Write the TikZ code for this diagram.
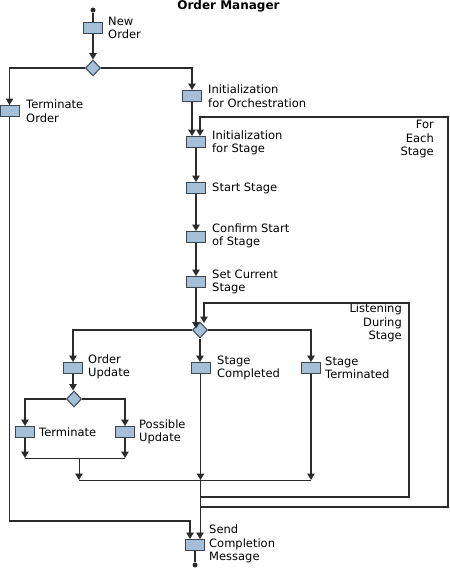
\documentclass[tikz,border=0pt]{standalone}
\usepackage{fontspec}
\setmainfont{DejaVu Sans}
\usetikzlibrary{shapes.geometric,arrows.meta,calc}
\definecolor{boxfill}{HTML}{A5BFD9}
\definecolor{boxline}{HTML}{3C4650}
\definecolor{ln}{HTML}{2B2B2B}
\begin{document}
\begin{tikzpicture}[x=1pt,y=-1pt,
  font=\fontsize{11.5}{13.5}\selectfont,
  act/.style={draw=boxline,fill=boxfill,line width=1pt,minimum width=19pt,minimum height=11pt,inner sep=0pt},
  dec/.style={diamond,draw=boxline,fill=boxfill,line width=1pt,minimum width=15pt,minimum height=16pt,inner sep=0pt},
  dotnode/.style={circle,fill=ln,inner sep=0pt,minimum size=5pt},
  lbl/.style={anchor=west,align=left,inner sep=0pt,text=black},
  rlbl/.style={anchor=north east,align=right,inner sep=0pt,text=black},
  flow/.style={draw=ln,line width=1.4pt},
  thin/.style={draw=ln,line width=0.9pt},
  arr/.style={-{Triangle[width=7.5pt,length=6.5pt]}},
]
\useasboundingbox (0,0) rectangle (450,568);
\fill[white] (0,0) rectangle (450,568);

\node[font=\fontsize{12}{14}\selectfont\bfseries,inner sep=0pt] (title) at (228.5,6) {Order Manager};

% nodes
\node[dotnode] (s) at (93,10) {};
\node[act] (n1) at (93,28) {};
\node[lbl] (n1l) at (108,28) {New\\Order};
\node[dec] (d1) at (93,68) {};
\node[act] (tor) at (9.5,111) {};
\node[lbl] (torl) at (26,111) {Terminate\\Order};
\node[act] (io) at (192,96) {};
\node[lbl] (iol) at (208,96) {Initialization\\for Orchestration};
\node[act] (is) at (196,142) {};
\node[lbl] (isl) at (212,143) {Initialization\\for Stage};
\node[act] (ss) at (196,188) {};
\node[lbl] (ssl) at (212,188) {Start Stage};
\node[act] (cs) at (196,237) {};
\node[lbl] (csl) at (212,236) {Confirm Start\\of Stage};
\node[act] (sc) at (196,282) {};
\node[lbl] (scl) at (212,282) {Set Current\\Stage};
\node[dec] (d2) at (200,330) {};
\node[act] (ou) at (73,368) {};
\node[lbl] (oul) at (88,367) {Order\\Update};
\node[act] (scp) at (200.5,368) {};
\node[lbl] (scpl) at (217,368) {Stage\\Completed};
\node[act] (st) at (311,368) {};
\node[lbl] (stl) at (325,368) {Stage\\Terminated};
\node[dec] (d3) at (74,399) {};
\node[act] (tm) at (25,432) {};
\node[lbl] (tml) at (39,432) {Terminate};
\node[act] (pu) at (125,432) {};
\node[lbl] (pul) at (139,432) {Possible\\Update};
\node[act] (scm) at (195,545) {};
\node[lbl] (scml) at (209,544) {Send\\Completion\\Message};
\node[dotnode] (e) at (195,565) {};
\node[rlbl] (fel) at (434,120) {For\\Each\\Stage};
\node[rlbl] (lsl) at (402,304) {Listening\\During\\Stage};

% coordinates
\coordinate (m1) at (25,458);
\coordinate (m1b) at (125,458);
\coordinate (m1c) at (79,458);
\coordinate (m2) at (79,480);
\coordinate (m2b) at (311,480);
\coordinate (m2c) at (200,480);
\coordinate (lsB) at (200,497);
\coordinate (lsBR) at (409,497);
\coordinate (lsTR) at (409,303);
\coordinate (lsTL) at (204,303);
\coordinate (feB) at (200,507);
\coordinate (feBR) at (448,507);
\coordinate (feTR) at (448,117);
\coordinate (feTL) at (200,117);
\coordinate (tB) at (9.5,521);
\coordinate (tBR) at (190,521);

% connectors
\draw[flow] (s) -- (n1.north);
\draw[flow,arr] (n1.south) -- (d1.north);
\draw[flow,arr] (d1.west) -| (tor.north);
\draw[flow,arr] (d1.east) -| (io.north);
\draw[flow,arr] (io.south) -- (io.south |- is.north);
\draw[flow,arr] (feB) -- (feBR) -- (feTR) -- (feTL) -- (feTL |- is.north);
\draw[flow,arr] (is.south) -- (ss.north);
\draw[flow,arr] (ss.south) -- (cs.north);
\draw[flow,arr] (cs.south) -- (sc.north);
\draw[flow,arr] (sc.south) -- ++(0,40.5);
\draw[flow,arr] (lsB) -- (lsBR) -- (lsTR) -- (lsTL) -- ++(0,20);
\draw[flow,arr] (d2.west) -| (ou.north);
\draw[flow,arr] (d2.south) -- (d2.south |- scp.north);
\draw[flow,arr] (d2.east) -| (st.north);
\draw[flow,arr] (ou.south) -- (d3.north -| ou.south);
\draw[flow,arr] (d3.west) -| (tm.north);
\draw[flow,arr] (d3.east) -| (pu.north);
\draw[flow,arr] (tm.south) -- (m1);
\draw[flow,arr] (pu.south) -- (m1b);
\draw[thin] (m1) -- (m1b);
\draw[thin,arr] (m1c) -- (m2);
\draw[flow,arr] (scp.south) -- (scp.south |- m2c);
\draw[flow,arr] (st.south) -- (m2b);
\draw[thin] (m2) -- (m2b);
\draw[thin,arr] (m2c) -- (m2c |- scm.north);
\draw[flow,arr] (tor.south) -- (tB) -- (tBR) -- (tBR |- scm.north);
\draw[flow] (scm.south) -- (e);
\end{tikzpicture}
\end{document}
